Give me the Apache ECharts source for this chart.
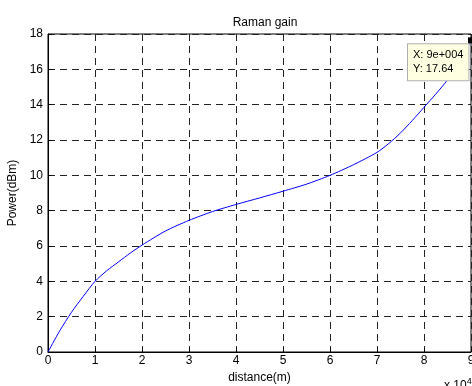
<!DOCTYPE html>
<html><head><meta charset="utf-8">
<script src="https://cdn.jsdelivr.net/npm/echarts@6/dist/echarts.min.js"></script>
<style>html,body{margin:0;padding:0;background:#fff}#c{width:472px;height:386px}</style>
</head><body><div id="c"></div>
<script>
// distance in metres, power in dBm
const distance = [0, 2500, 5000, 7500, 10000, 12500, 15000, 17500, 20000, 25000, 30000, 35000, 40000, 45000, 50000, 55000, 60000, 65000, 70000, 72500, 75000, 77500, 80000, 82500, 85000, 87500, 90000];
const power    = [0, 1.2, 2.25, 3.15, 4.0, 4.6, 5.1, 5.6, 6.05, 6.85, 7.45, 7.95, 8.35, 8.72, 9.1, 9.5, 10.0, 10.6, 11.3, 11.8, 12.4, 13.1, 13.85, 14.6, 15.4, 16.4, 17.64];
const xTicks = [0,1,2,3,4,5,6,7,8,9];
const yTicks = [0,2,4,6,8,10,12,14,16,18];
const title = 'Raman gain';
const xName = 'distance(m)';
const yName = 'Power(dBm)';
const tipLabel = ['X: 9e+004', 'Y: 17.64'];

const FONT = 'Liberation Sans, Arial, sans-serif';
const pts = distance.map((d, i) => [d, power[i]]);
const last = pts.length - 1;
const data = pts.map((p, i) => i === last ? {
  value: p,
  symbol: 'rect', symbolSize: 6,
  itemStyle: {color: '#000'},
  label: {
    show: true, position: [-60, 7],
    formatter: tipLabel.join('\n'),
    fontFamily: FONT, fontSize: 11, lineHeight: 14, color: '#000',
    backgroundColor: '#ffffe1', borderColor: '#b0b0b0', borderWidth: 1,
    padding: [4, 5, 4, 5]
  }
} : {value: p, symbol: 'none'});

const chart = echarts.init(document.getElementById('c'), null, {renderer: 'canvas'});
chart.setOption({
  animation: false,
  backgroundColor: '#fff',
  title: {text: title, left: 260, top: 12, textAlign: 'center',
    textStyle: {fontFamily: FONT, fontSize: 12, fontWeight: 'normal', color: '#000'}},
  grid: {left: 48, right: 1, top: 34, bottom: 34, show: true, borderColor: '#000', borderWidth: 1,
    containLabel: false, outerBoundsMode: 'none'},
  xAxis: {
    type: 'value', min: 0, max: 90000, interval: 10000,
    name: xName, nameLocation: 'middle', nameGap: 20,
    nameTextStyle: {fontFamily: FONT, fontSize: 12, color: '#000'},
    axisLine: {lineStyle: {color: '#000', width: 1}},
    axisTick: {inside: true, length: 4, lineStyle: {color: '#000'}},
    axisLabel: {fontFamily: FONT, fontSize: 12, color: '#000', margin: 3,
      formatter: v => String(xTicks[Math.round(v / 10000)])},
    splitLine: {show: true, lineStyle: {color: '#222', type: [7, 5], width: 1}}
  },
  yAxis: {
    type: 'value', min: 0, max: 18, interval: 2,
    name: yName, nameLocation: 'middle', nameGap: 28, nameRotate: 90,
    nameTextStyle: {fontFamily: FONT, fontSize: 12, color: '#000'},
    axisLine: {show: true, lineStyle: {color: '#000', width: 1}},
    axisTick: {show: true, inside: true, length: 4, lineStyle: {color: '#000'}},
    axisLabel: {fontFamily: FONT, fontSize: 12, color: '#000', margin: 5,
      formatter: v => String(yTicks[Math.round(v / 2)])},
    splitLine: {show: true, lineStyle: {color: '#222', type: [7, 5], width: 1}}
  },
  graphic: [{
    type: 'text', left: 444, top: 377,
    style: {
      text: '{a|x 10}{b|4}',
      rich: {
        a: {fontFamily: FONT, fontSize: 12, color: '#000', verticalAlign: 'bottom'},
        b: {fontFamily: FONT, fontSize: 9, color: '#000', verticalAlign: 'top', padding: [0, 0, 6, 0]}
      }
    }
  }],
  series: [{
    type: 'line', data: data, showSymbol: true, clip: false,
    lineStyle: {color: '#0000ff', width: 1},
    itemStyle: {color: '#0000ff'},
    smooth: 0.25
  }]
});
</script></body></html>
